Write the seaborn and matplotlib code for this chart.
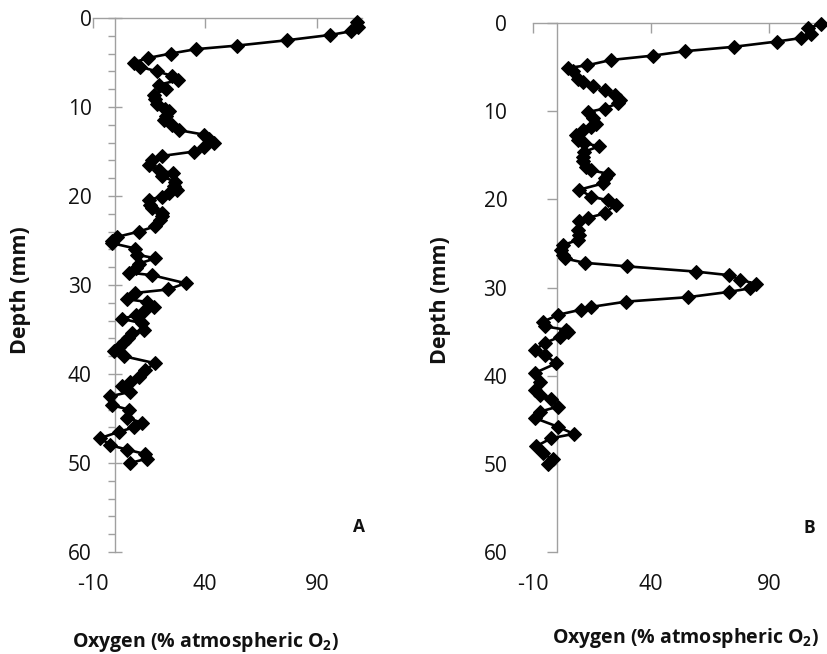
import matplotlib
matplotlib.use("Agg")
import matplotlib.pyplot as plt
import seaborn as sns
import pandas as pd
from matplotlib.ticker import MultipleLocator

# ---------------- data ----------------
depth_a = [0.4, 1.0, 1.5, 1.9, 2.5, 3.1, 3.5, 4.0, 4.5, 5.0, 5.5, 6.0, 6.5, 7.0, 7.5,
           8.0, 8.6, 9.1, 9.7, 10.2, 10.5, 11.0, 11.5, 12.0, 12.6, 13.1, 13.6, 14.0,
           14.5, 15.0, 15.5, 16.0, 16.5, 17.1, 17.4, 17.8, 18.4, 18.9, 19.3, 19.7,
           20.1, 20.4, 21.0, 21.4, 21.9, 22.3, 22.7, 23.4, 24.0, 24.6, 25.0, 25.3,
           25.9, 26.6, 27.0, 27.6, 28.1, 28.6, 28.9, 29.8, 30.5, 30.9, 31.6, 31.9,
           32.5, 32.9, 33.4, 33.8, 34.3, 35.0, 35.4, 36.0, 36.4, 37.0, 37.4, 38.0,
           38.8, 39.5, 40.3, 40.9, 41.4, 42.0, 42.5, 43.5, 44.0, 44.9, 45.5, 46.0,
           46.5, 47.2, 48.0, 48.5, 49.0, 49.5, 50.0]
oxygen_a = [108, 108.5, 105, 96, 76.6, 54.3, 36, 24.6, 14.4, 8.2, 11.2, 18.6, 25.3,
            27.8, 19.3, 22.8, 17.1, 17.9, 18.6, 22.3, 23.8, 22.5, 21.6, 25.3, 28.3,
            39.4, 42, 44.2, 39.4, 35.3, 20.8, 16.4, 14.9, 19.3, 25.7, 20.8, 26.8, 26,
            27.5, 24, 20.8, 14.9, 15.5, 16.4, 20.8, 21, 20.1, 17.9, 10.4, 0.7, -1.5,
            -1.5, 8.9, 9.7, 17.9, 10.4, 9, 5.9, 16.4, 31.3, 23.5, 8.6, 5.2, 14.1,
            17.1, 12.6, 9, 3.0, 11.9, 12.6, 7.4, 5.5, 3.7, 1.5, -0.8, 3.7, 17.9, 13.4,
            10.4, 6.7, 3.0, 6.7, -2.2, -1.5, 5.9, 5.2, 11.9, 8.2, 1.5, -6.7, -2.2,
            5.2, 13.4, 14.1, 6.7]

depth_b = [0.1, 0.6, 1.2, 1.7, 2.1, 2.7, 3.2, 3.7, 4.2, 4.8, 5.1, 5.5, 6.3, 6.7, 7.2,
           7.6, 8.2, 8.7, 9.1, 9.7, 10.1, 10.8, 11.5, 11.8, 12.1, 12.7, 13.3, 13.6,
           14.0, 14.6, 15.2, 15.7, 16.3, 16.7, 17.1, 17.6, 18.2, 18.9, 19.7, 20.1,
           20.6, 21.6, 22.1, 22.5, 23.5, 24.0, 24.6, 25.2, 25.7, 26.3, 26.7, 27.2,
           27.6, 28.2, 28.6, 29.1, 29.6, 30.1, 30.5, 31.1, 31.6, 32.2, 32.5, 33.1,
           33.9, 34.4, 34.8, 35.0, 35.6, 36.3, 37.1, 37.6, 38.6, 39.7, 40.7, 41.6,
           42.2, 42.7, 43.5, 44.1, 44.8, 45.8, 46.6, 47.1, 48.0, 48.8, 49.5, 50.0]
oxygen_b = [112.1, 106.5, 107.6, 103.7, 93.4, 75.1, 54.2, 40.8, 22.9, 13.0, 4.8, 6.9,
            9.0, 11.1, 15.4, 20.3, 24.6, 26.7, 26.0, 20.3, 13.3, 15.4, 16.8, 14.7,
            11.1, 8.3, 9.0, 11.8, 17.8, 11.8, 11.1, 11.1, 12.6, 14.7, 21.7, 20.3,
            19.6, 9.7, 14.7, 21.7, 25.0, 20.3, 13.3, 9.7, 9.0, 9.7, 9.0, 2.7, 2.0,
            2.7, 3.4, 11.9, 29.8, 59.2, 73.0, 77.8, 84.3, 81.8, 73.0, 55.6, 29.5,
            14.7, 10.5, 0.6, -5.8, -5.1, 4.1, 4.8, 1.3, -5.1, -9.3, -5.1, -0.1, -9.3,
            -7.2, -9.3, -7.2, -2.3, 0.6, -7.2, -9.3, 0.6, 7.2, -2.3, -8.6, -5.8,
            -1.6, -3.7]

x_ticks = [-10, 40, 90]
y_ticks = [0, 10, 20, 30, 40, 50, 60]
panel_labels = ["A", "B"]
x_title = "Oxygen (% atmospheric O$_\\mathregular{2}$)"
y_title = "Depth (mm)"

# ---------------- style ----------------
sns.set_style("white")
plt.rcParams["font.family"] = ["Open Sans", "DejaVu Sans"]
plt.rcParams["mathtext.default"] = "regular"
plt.rcParams["axes.unicode_minus"] = False

GRAY = "#a0a0a0"
TXT = "#111111"

fig = plt.figure(figsize=(8.28, 6.54), dpi=100)
W, H = 828.0, 654.0
ax_a = fig.add_axes([93 / W, 1 - 552 / H, 268.8 / W, 534 / H])
ax_b = fig.add_axes([533 / W, 1 - 552 / H, 283.2 / W, 529 / H])

df_a = pd.DataFrame({"oxygen": oxygen_a, "depth": depth_a})
df_b = pd.DataFrame({"oxygen": oxygen_b, "depth": depth_b})

for ax, df in ((ax_a, df_a), (ax_b, df_b)):
    sns.lineplot(data=df, x="oxygen", y="depth", sort=False, estimator=None,
                 color="black", linewidth=1.9, marker="D", markersize=6.8,
                 markeredgecolor="black", markerfacecolor="black",
                 clip_on=False, zorder=3, ax=ax)
    ax.set_xlim(-10, 110)
    ax.set_ylim(60, 0)
    ax.set_xticks(x_ticks)
    ax.set_yticks(y_ticks)
    ax.set_xlabel("")
    ax.set_ylabel("")
    ax.grid(False)
    for s in ("right", "bottom"):
        ax.spines[s].set_visible(False)
    ax.spines["left"].set_position(("data", 0))
    for s in ("left", "top"):
        ax.spines[s].set_color(GRAY)
        ax.spines[s].set_linewidth(1.0)
        ax.spines[s].set_zorder(1)
    ax.tick_params(axis="x", which="major", top=True, bottom=False,
                   labeltop=False, labelbottom=True, direction="in",
                   length=7, width=1, color=GRAY, pad=15.5,
                   labelsize=15.5, labelcolor=TXT)

# panel A: crossing major ticks plus minor ticks every 2 mm
ax_a.yaxis.set_minor_locator(MultipleLocator(2))
ax_a.tick_params(axis="y", which="major", left=True, direction="inout",
                 length=10, width=1, color=GRAY, pad=12.2,
                 labelsize=15, labelcolor=TXT)
ax_a.tick_params(axis="y", which="minor", left=True, direction="out",
                 length=5, width=1, color=GRAY)
# panel B: outward major ticks only
ax_b.tick_params(axis="y", which="major", left=True, direction="out",
                 length=7, width=1, color=GRAY, pad=28.5,
                 labelsize=15, labelcolor=TXT)

# axis titles
fig.text(21 / W, 1 - 290 / H, y_title, rotation=90, ha="center", va="center",
         fontsize=15.5, fontweight="bold", color=TXT)
fig.text(441 / W, 1 - 300 / H, y_title, rotation=90, ha="center", va="center",
         fontsize=15.5, fontweight="bold", color=TXT)
fig.text(206 / W, 1 - 647 / H, x_title, ha="center", va="baseline",
         fontsize=14, fontweight="bold", color=TXT)
fig.text(686 / W, 1 - 643 / H, x_title, ha="center", va="baseline",
         fontsize=14, fontweight="bold", color=TXT)

# panel letters
fig.text(359 / W, 1 - 527 / H, panel_labels[0], ha="center", va="center",
         fontsize=12.5, fontweight="bold", color=TXT)
fig.text(809 / W, 1 - 528 / H, panel_labels[1], ha="center", va="center",
         fontsize=12.5, fontweight="bold", color=TXT)

fig.savefig("out.png", dpi=100)
